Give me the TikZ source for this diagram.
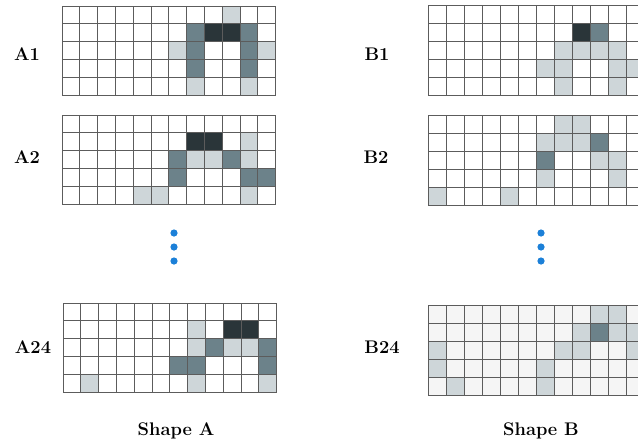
\documentclass[tikz,border=0pt]{standalone}
\definecolor{PixDark} {RGB}{42,53,57}
\definecolor{PixMid}  {RGB}{108,130,138}
\definecolor{PixLite} {RGB}{206,214,217}
\definecolor{GridLine}{RGB}{92,92,92}
\definecolor{DotBlue} {RGB}{28,128,216}
\usetikzlibrary{positioning}

% one 12x5 pixel grid: origin, cell size, shaded cells (col/row/style)
\newcommand{\pixgrid}[3]{%
  \begin{scope}[shift={#1},x=#2,y=-#2]
    \foreach \c/\r/\s in {#3}
      \fill[\s] (\c-1,\r-1) rectangle (\c,\r);
    \foreach \i in {0,...,12}
      \draw[gridline] (\i,0) -- (\i,5);
    \foreach \j in {0,...,5}
      \draw[gridline] (0,\j) -- (12,\j);
  \end{scope}}

\begin{document}
\begin{tikzpicture}[x=0.75pt,y=-0.75pt,
  pxlite/.style={fill=PixLite},
  pxmid/.style={fill=PixMid},
  pxdark/.style={fill=PixDark},
  gridline/.style={draw=GridLine,line width=0.7pt},
  lbl/.style={font=\fontsize{13.7}{16}\selectfont\bfseries,
              inner sep=0pt,anchor=base},
  vdot/.style={circle,fill=DotBlue,inner sep=0pt,minimum size=5.4pt}]
  \clip (0,0) rectangle (638,447);

  % shape A
  \pixgrid{(62,6)}{13.35pt}{10/1/pxlite,8/2/pxmid,9/2/pxdark,10/2/pxdark,
    11/2/pxmid,7/3/pxlite,8/3/pxmid,11/3/pxmid,12/3/pxlite,8/4/pxmid,
    11/4/pxmid,8/5/pxlite,11/5/pxlite}
  \pixgrid{(62,115)}{13.35pt}{8/2/pxdark,9/2/pxdark,11/2/pxlite,7/3/pxmid,
    8/3/pxlite,9/3/pxlite,10/3/pxmid,11/3/pxlite,7/4/pxmid,11/4/pxmid,
    12/4/pxmid,5/5/pxlite,6/5/pxlite,11/5/pxlite}
  \pixgrid{(63,303)}{13.35pt}{8/2/pxlite,10/2/pxdark,11/2/pxdark,8/3/pxlite,
    9/3/pxmid,10/3/pxlite,11/3/pxlite,12/3/pxmid,7/4/pxmid,8/4/pxmid,
    12/4/pxmid,2/5/pxlite,8/5/pxlite,12/5/pxlite}

  % shape B
  \pixgrid{(428,5)}{13.5pt}{9/2/pxdark,10/2/pxmid,8/3/pxlite,9/3/pxlite,
    10/3/pxlite,11/3/pxlite,7/4/pxlite,8/4/pxlite,11/4/pxlite,12/4/pxlite,
    8/5/pxlite,11/5/pxlite}
  \pixgrid{(428,115)}{13.5pt}{8/1/pxlite,9/1/pxlite,7/2/pxlite,8/2/pxlite,
    9/2/pxlite,10/2/pxmid,7/3/pxmid,10/3/pxlite,11/3/pxlite,7/4/pxlite,
    11/4/pxlite,1/5/pxlite,5/5/pxlite}
  \fill[black!4] (428,305) rectangle +(216,90);
  \pixgrid{(428,305)}{13.5pt}{10/1/pxlite,11/1/pxlite,9/2/pxlite,10/2/pxmid,
    11/2/pxlite,12/2/pxlite,1/3/pxlite,8/3/pxlite,9/3/pxlite,12/3/pxlite,
    1/4/pxlite,7/4/pxlite,2/5/pxlite,7/5/pxlite}

  % labels
  \node[lbl] (labA1)  at (27,60)  {A1};
  \node[lbl] (labA2)  at (27,163) {A2};
  \node[lbl] (labA24) at (33,353) {A24};
  \node[lbl] (labB1)  at (377,60)  {B1};
  \node[lbl] (labB2)  at (376,163) {B2};
  \node[lbl] (labB24) at (382,353) {B24};

  \foreach \y [count=\k] in {233,247,261}{
    \node[vdot] (dotA\k) at (174,\y) {};
    \node[vdot] (dotB\k) at (541,\y) {};
  }

  \node[lbl] (capA) at (176,435) {Shape A};
  \node[lbl] (capB) at (541,435) {Shape B};
\end{tikzpicture}
\end{document}
